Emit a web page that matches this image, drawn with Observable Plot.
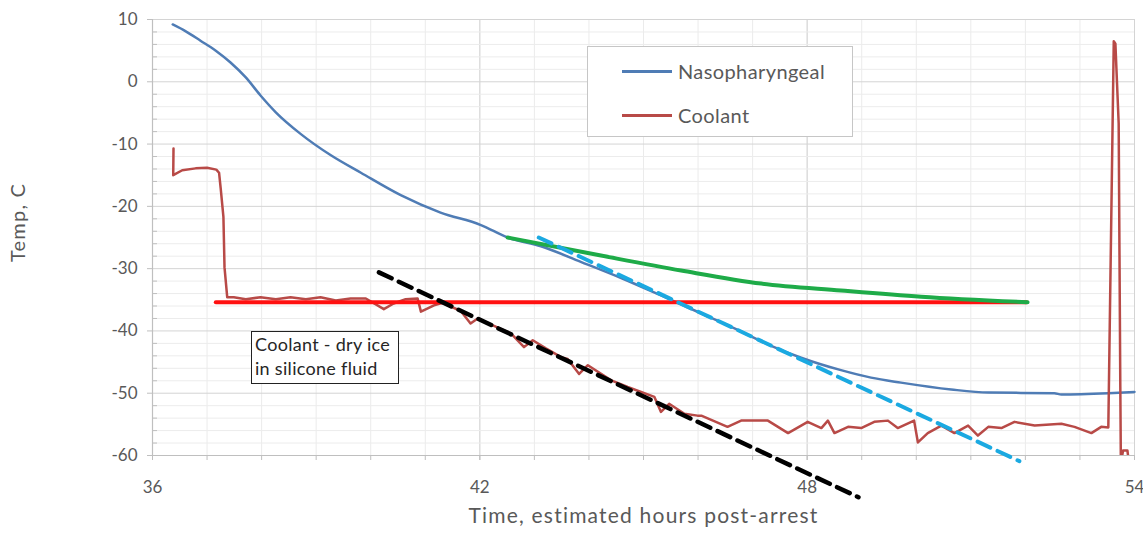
<!DOCTYPE html>
<html><head><meta charset="utf-8">
<script src="https://cdn.jsdelivr.net/npm/d3@7"></script>
<script src="https://cdn.jsdelivr.net/npm/@observablehq/plot@0.6"></script>
<style>
body{margin:0;background:#fff;}
#wrap{position:relative;width:1143px;height:535px;font-family:Lato, "Open Sans", sans-serif;}
.legend{position:absolute;left:587px;top:46px;width:266px;height:91px;border:1px solid #c6c6c6;background:#fff;box-sizing:border-box;}
.legend .row{position:absolute;left:34px;height:22px;display:flex;align-items:center;font-size:20px;letter-spacing:0.4px;color:#595959;}
.legend .sw{width:50px;height:3px;margin-right:6px;}
.note{position:absolute;left:251px;top:331px;width:148px;height:53px;border:1.5px solid #222;background:#fff;box-sizing:border-box;font-size:18px;letter-spacing:0.3px;color:#262626;line-height:24px;padding:0 0 0 3px;white-space:nowrap;}
</style></head><body><div id="wrap"></div>
<script>
// ---- data ----
const seriesNames = ["Nasopharyngeal", "Coolant"];
const nasoHours = [36.37,36.61,36.88,37.16,37.43,37.71,37.98,38.26,38.72,39.27,39.82,40.55,41.28,42.02,42.51,43.12,43.85,44.59,45.32,46.06,46.79,47.34,47.89,48.62,49.17,49.72,50.64,51.32,52.53,52.66,53.52,54.0];
const nasoTemps = [9.2,8.1,6.6,5.0,3.1,0.7,-2.2,-4.9,-8.4,-11.8,-14.6,-18.2,-21.0,-23.0,-25.0,-26.4,-28.9,-31.5,-34.3,-37.2,-40.1,-42.4,-44.3,-46.3,-47.5,-48.3,-49.4,-49.9,-50.0,-50.2,-50.0,-49.8];
const coolHours = [36.385,36.38,36.545,36.79,37.0,37.17,37.22,37.25,37.30,37.32,37.37,37.49,37.71,37.98,38.26,38.53,38.81,39.08,39.36,39.63,39.91,40.24,40.42,40.64,40.86,40.92,41.16,41.32,41.65,41.83,41.96,42.29,42.57,42.81,42.97,43.21,43.49,43.61,43.82,43.98,44.40,44.71,45.20,45.32,45.47,45.75,45.99,46.06,46.54,46.79,47.28,47.65,48.01,48.26,48.38,48.50,48.75,48.99,49.23,49.48,49.66,49.96,50.03,50.21,50.46,50.70,50.95,51.13,51.32,51.56,51.80,52.17,52.66,52.90,53.21,53.39,53.52,53.62,53.65,53.71,53.74,53.75,53.79,53.87,53.91];
const coolTemps = [-10.7,-15.0,-14.2,-13.9,-13.8,-14.1,-14.6,-17.1,-21.7,-29.8,-34.6,-34.6,-34.9,-34.6,-34.9,-34.6,-34.9,-34.6,-35.1,-34.8,-34.8,-36.5,-35.6,-34.9,-34.8,-36.9,-35.9,-35.5,-36.8,-38.8,-38.0,-39.3,-40.4,-42.6,-41.5,-42.8,-44.2,-44.5,-46.9,-45.5,-47.9,-49.0,-50.6,-53.0,-51.7,-53.3,-53.6,-53.6,-55.4,-54.4,-54.4,-56.4,-54.6,-55.6,-54.4,-56.4,-55.4,-55.6,-54.6,-54.4,-55.6,-54.4,-57.9,-56.4,-55.2,-56.4,-55.2,-56.8,-55.4,-55.6,-54.6,-55.2,-54.9,-55.4,-56.4,-55.4,-55.5,6.5,6.1,-6.7,-49.0,-61.3,-59.2,-59.2,-61.9];
const dryIceHours = [37.16, 52.02];
const dryIceTemps = [-35.4, -35.4];
const greenHours = [42.51,44.22,45.69,47.16,48.62,50.09,52.04];
const greenTemps = [-25.0,-27.9,-30.3,-32.4,-33.5,-34.5,-35.4];
const nasoTrendHours = [43.08, 51.89];
const nasoTrendTemps = [-25.0, -60.9];
const coolTrendHours = [40.15, 48.94];
const coolTrendTemps = [-30.6, -66.7];
const xLabelTicks = [36, 42, 48, 54];
const xMinorTicks = d3.range(36, 55, 1);
const yMajorTicks = [-60, -50, -40, -30, -20, -10, 0, 10];
const yMinorTicks = d3.range(-60, 11, 2).filter(v => v % 10 !== 0);
const xTitle = "Time, estimated hours post-arrest";
const yTitle = "Temp, C";
const noteLines = ["Coolant - dry ice", "in silicone fluid"];

const pts = (hs, ts) => hs.map((h, i) => ({h, t: ts[i]}));
const naso = pts(nasoHours, nasoTemps);
const cool = pts(coolHours, coolTemps);
const dry = pts(dryIceHours, dryIceTemps);
const green = pts(greenHours, greenTemps);
const nasoTrend = pts(nasoTrendHours, nasoTrendTemps);
const coolTrend = pts(coolTrendHours, coolTrendTemps);

const BLUE = "#4f7cb5", BROWN = "#b84a47";
const fmt = d => String(d);

const chart = Plot.plot({
  width: 1143, height: 535,
  marginLeft: 152, marginRight: 9, marginTop: 19, marginBottom: 80,
  x: {domain: [36, 54]},
  y: {domain: [-60, 10]},
  style: {fontFamily: "Lato, 'Open Sans', sans-serif", fontSize: "17px", color: "#595959", background: "transparent", overflow: "visible"},
  marks: [
    Plot.gridX(xMinorTicks, {stroke: "#ebebeb", strokeOpacity: 1}),
    Plot.gridX([42, 48, 54], {stroke: "#d4d4d4", strokeOpacity: 1}),
    Plot.gridY(yMinorTicks, {stroke: "#ececec", strokeOpacity: 1}),
    Plot.gridY(yMajorTicks, {stroke: "#d4d4d4", strokeOpacity: 1}),
    Plot.axisY({ticks: yMajorTicks, tickSize: 5, tickPadding: 10, tickFormat: fmt, label: null, stroke: "#bfbfbf", fill: "#595959"}),
    Plot.axisY({ticks: yMinorTicks, tickSize: 5, dx: 5, tickFormat: () => "", label: null, stroke: "#bfbfbf"}),
    Plot.axisX({ticks: xMinorTicks, tickSize: 5, tickFormat: () => "", label: null, stroke: "#bfbfbf"}),
    Plot.axisX({ticks: xLabelTicks, tickSize: 5, tickPadding: 20, tickFormat: fmt, label: null, stroke: "#bfbfbf", fill: "#595959"}),
    Plot.ruleX([36], {stroke: "#bfbfbf", strokeWidth: 1.2}),
    Plot.ruleY([-60], {stroke: "#bfbfbf", strokeWidth: 1.2}),
    Plot.line(naso, {x: "h", y: "t", stroke: BLUE, strokeWidth: 2.5, curve: "monotone-x"}),
    Plot.line(cool, {x: "h", y: "t", stroke: BROWN, strokeWidth: 2.5, clip: true}),
    Plot.line(dry, {x: "h", y: "t", stroke: "#ff1010", strokeWidth: 4}),
    Plot.line(green, {x: "h", y: "t", stroke: "#1eab48", strokeWidth: 4, curve: "monotone-x"}),
    Plot.line(nasoTrend, {x: "h", y: "t", stroke: "#1ba9e1", strokeWidth: 4, strokeDasharray: "14,8"}),
    Plot.line(coolTrend, {x: "h", y: "t", stroke: "#000", strokeWidth: 4.5, strokeDasharray: "14,8"}),
    Plot.text([xTitle], {frameAnchor: "bottom", dy: 67, fontSize: 21, fill: "#595959"}),
    Plot.text([yTitle], {frameAnchor: "left", textAnchor: "middle", rotate: -90, dx: -134, dy: -15, fontSize: 20, fill: "#595959"})
  ]
});

const wrap = document.getElementById("wrap");
wrap.appendChild(chart);
// letter spacing for axis titles
chart.querySelectorAll("text").forEach(t => {
  if (t.textContent === xTitle || t.textContent === yTitle) t.style.letterSpacing = "1.2px";
});

const legend = document.createElement("div");
legend.className = "legend";
const colors = [BLUE, BROWN];
const tops = [13, 57];
seriesNames.forEach((name, i) => {
  const row = document.createElement("div");
  row.className = "row";
  row.style.top = tops[i] + "px";
  const sw = document.createElement("span");
  sw.className = "sw";
  sw.style.background = colors[i];
  row.appendChild(sw);
  row.appendChild(document.createTextNode(name));
  legend.appendChild(row);
});
wrap.appendChild(legend);

const note = document.createElement("div");
note.className = "note";
note.innerHTML = noteLines.join("<br>");
wrap.appendChild(note);
</script></body></html>
